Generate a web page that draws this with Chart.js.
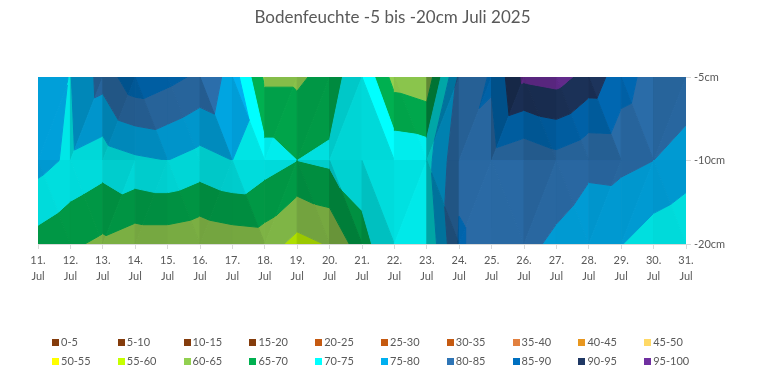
<!DOCTYPE html>
<html>
<head>
<meta charset="utf-8">
<style>
  body { margin: 0; background: #fff; }
  #wrap { position: relative; width: 770px; height: 367px; }
  #legend div { position: absolute; font: 11px Lato, sans-serif; color: #595959; line-height: 14px; white-space: nowrap; }
  #legend span { display: inline-block; width: 7px; height: 7px; margin-right: 2px; }
</style>
<script src="https://cdn.jsdelivr.net/npm/chart.js@4"></script>
</head>
<body>
<div id="wrap">
  <canvas id="chart" width="770" height="367"></canvas>
  <div id="legend"></div>
</div>
<script>
// data
const days = ['11.','12.','13.','14.','15.','16.','17.','18.','19.','20.','21.','22.','23.','24.','25.','26.','27.','28.','29.','30.','31.'];
const depths = ['-5cm', '-10cm', '-20cm'];
const row5  = [77.5, 74.8, 82, 88.5, 86.5, 84, 78, 64, 64, 67, 74.5, 63, 61.5, 81, 85.6, 96, 97, 93, 87.3, 82.6, 83];
const row10 = [76.9, 74, 72.1, 74, 75, 73, 75, 72.2, 70, 71, 73, 73.8, 73.2, 84, 83, 81, 83.2, 81, 81.2, 80, 77.8];
const row20 = [68, 65.8, 64, 62, 62, 61, 62, 62.5, 58.3, 60.4, 68, 74.7, 70.5, 85.5, 83, 81.3, 79, 77.2, 75.2, 72.1, 70.5];
const bandLabels = ['0-5','5-10','10-15','15-20','20-25','25-30','30-35','35-40','40-45','45-50','50-55','55-60','60-65','65-70','70-75','75-80','80-85','85-90','90-95','95-100'];
const bandColors = ['#843C0C','#843C0C','#843C0C','#843C0C','#C55A11','#C55A11','#C55A11','#E2803F','#E8971F','#FFD966','#FFFF00','#C6FF00','#92D050','#00B050','#00FFFF','#00B0F0','#2E75B6','#0070C0','#1F3864','#7030A0'];
const rows = [row5, row10, row20];

// cut a triangle down to the part between two values
function clip(poly, limit, keepAbove) {
    const out = [];
    for (let i = 0; i < poly.length; i++) {
        const a = poly[i], b = poly[(i + 1) % poly.length];
        const aIn = keepAbove ? a.v >= limit : a.v <= limit;
        const bIn = keepAbove ? b.v >= limit : b.v <= limit;
        if (aIn) out.push(a);
        if (aIn !== bIn) {
            const t = (limit - a.v) / (b.v - a.v);
            out.push({x: a.x + (b.x - a.x) * t, y: a.y + (b.y - a.y) * t, v: limit});
        }
    }
    return out;
}

function shadeFor(a, b, c) {
    // gradient of the value over the triangle, in value per pixel
    const det = (b.x - a.x) * (c.y - a.y) - (c.x - a.x) * (b.y - a.y);
    const gx = ((b.v - a.v) * (c.y - a.y) - (c.v - a.v) * (b.y - a.y)) / det;
    const gy = ((c.v - a.v) * (b.x - a.x) - (b.v - a.v) * (c.x - a.x)) / det;
    return Math.max(0.6, Math.min(1, 0.87 - 0.45 * gx + 0.4 * gy));
}

function tint(hex, f) {
    const n = parseInt(hex.slice(1), 16);
    return 'rgb(' + Math.round((n >> 16) * f) + ',' + Math.round(((n >> 8) & 255) * f) + ',' + Math.round((n & 255) * f) + ')';
}

function drawTriangle(ctx, a, b, c) {
    const f = shadeFor(a, b, c);
    bandColors.forEach(function(color, k) {
        let poly = clip([a, b, c], k * 5, true);
        if (poly.length) poly = clip(poly, (k + 1) * 5, false);
        if (poly.length < 3) return;
        ctx.beginPath();
        poly.forEach(function(p, i) { i ? ctx.lineTo(p.x, p.y) : ctx.moveTo(p.x, p.y); });
        ctx.closePath();
        ctx.fillStyle = ctx.strokeStyle = tint(color, f);
        ctx.lineWidth = 1;
        ctx.lineJoin = 'round';
        ctx.stroke();
        ctx.fill();
    });
}

const surfacePlugin = {
    id: 'surface',
    beforeDatasetsDraw(chart) {
        const ctx = chart.ctx, area = chart.chartArea;
        const sx = chart.scales.x, sy = chart.scales.y;
        const pt = (i, j) => ({x: sx.getPixelForValue(i), y: sy.getPixelForValue(j), v: rows[j][i]});
        ctx.save();
        ctx.beginPath();
        ctx.rect(area.left, area.top, area.width, area.height);
        ctx.clip();
        for (let j = 0; j < rows.length - 1; j++) {
            for (let i = 0; i < days.length - 1; i++) {
                const tl = pt(i, j), tr = pt(i + 1, j), bl = pt(i, j + 1), br = pt(i + 1, j + 1);
                // the cell folds along the diagonal with the higher pair of corners
                if (tl.v + br.v >= tr.v + bl.v) {
                    drawTriangle(ctx, tl, tr, br);
                    drawTriangle(ctx, tl, br, bl);
                } else {
                    drawTriangle(ctx, tl, tr, bl);
                    drawTriangle(ctx, tr, br, bl);
                }
            }
        }
        ctx.restore();
    }
};

new Chart(document.getElementById('chart'), {
    type: 'line',
    data: { labels: days.map(d => [d, 'Jul']), datasets: [] },
    plugins: [surfacePlugin],
    options: {
        responsive: false,
        animation: false,
        layout: { padding: { left: 38, right: 23 } },
        plugins: {
            legend: { display: false },
            tooltip: { enabled: false },
            title: {
                display: true,
                text: 'Bodenfeuchte -5 bis -20cm Juli 2025',
                color: '#595959',
                font: { family: 'Lato', size: 17, weight: 'normal' },
                padding: { top: 7, bottom: 49.6 }
            }
        },
        scales: {
            x: {
                type: 'category',
                offset: false,
                afterFit(s) { s.height = 123; },
                grid: { drawOnChartArea: false, color: '#D9D9D9', tickLength: 5 },
                border: { color: '#D9D9D9' },
                ticks: { autoSkip: false, maxRotation: 0, padding: 4, color: '#595959', font: { family: 'Lato', size: 11, lineHeight: 1.4 } }
            },
            y: {
                type: 'category',
                position: 'right',
                labels: depths,
                offset: false,
                afterFit(s) { s.width = 61; },
                grid: { drawOnChartArea: false, color: '#D9D9D9', tickLength: 5 },
                border: { display: false },
                ticks: { autoSkip: false, padding: 3, color: '#595959', font: { family: 'Lato', size: 11 } }
            }
        }
    }
});

// legend under the chart, ten columns, two rows
const legendBox = document.getElementById('legend');
bandLabels.forEach(function(label, k) {
    const item = document.createElement('div');
    item.style.left = (52 + (k % 10) * 65.8) + 'px';
    item.style.top = (k < 10 ? 335 : 354) + 'px';
    item.innerHTML = '<span style="background:' + bandColors[k] + '"></span>' + label;
    legendBox.appendChild(item);
});
</script>
</body>
</html>
